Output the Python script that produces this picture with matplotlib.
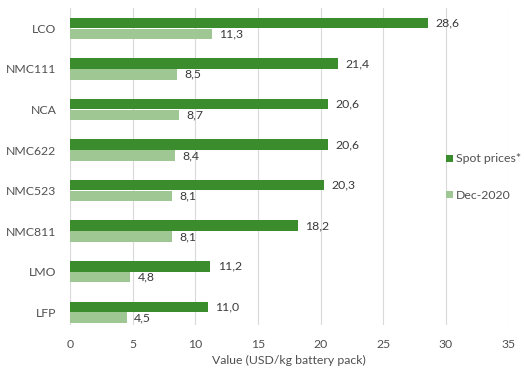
import matplotlib.pyplot as plt
import numpy as np

categories = ['LCO', 'NMC111', 'NCA', 'NMC622', 'NMC523', 'NMC811', 'LMO', 'LFP']
spot_prices = [28.6, 21.4, 20.6, 20.6, 20.3, 18.2, 11.2, 11.0]
dec_2020 = [11.3, 8.5, 8.7, 8.4, 8.1, 8.1, 4.8, 4.5]
xticks = [0, 5, 10, 15, 20, 25, 30, 35]

dark = '#3b8c2c'
light = '#9fc794'
txt = '#3a3a3a'

plt.rcParams['font.family'] = ['Lato', 'DejaVu Sans']

fig = plt.figure(figsize=(5.24, 3.76), dpi=100)
ax = fig.add_axes([0.134, 0.136, 0.836, 0.843])

y = np.arange(len(categories))
off = 0.135
h = 0.26
ax.barh(y - off, spot_prices, height=h, color=dark, label='Spot prices*')
ax.barh(y + off, dec_2020, height=h, color=light, label='Dec-2020')

fmt = lambda v: f'{v:.1f}'.replace('.', ',')
for yy, v in zip(y - off, spot_prices):
    ax.text(v + 0.6, yy, fmt(v), va='center', ha='left', fontsize=8.8, color=txt)
for yy, v in zip(y + off, dec_2020):
    ax.text(v + 0.6, yy, fmt(v), va='center', ha='left', fontsize=8.8, color=txt)

ax.set_xlim(0, 35)
ax.set_ylim(7.31, -0.505)
ax.set_xticks(xticks)
ax.set_yticks(y)
ax.set_yticklabels(categories)
ax.tick_params(length=0, labelsize=8.8, labelcolor='#505050')
ax.tick_params(axis='x', pad=10)
ax.tick_params(axis='y', pad=10)
ax.grid(axis='x', color='#d9d9d9', linewidth=0.8)
ax.set_axisbelow(True)
for s in ax.spines.values():
    s.set_visible(False)
ax.set_xlabel('Value (USD/kg battery pack)', fontsize=8.8, color='#505050', labelpad=4)

ax.legend(loc='upper left', bbox_to_anchor=(0.845, 0.56), frameon=False,
          fontsize=8.8, labelcolor='#505050', handlelength=0.5, handleheight=0.5,
          handletextpad=0.3, labelspacing=2.1, borderpad=0)

fig.savefig('out.png', dpi=100)
